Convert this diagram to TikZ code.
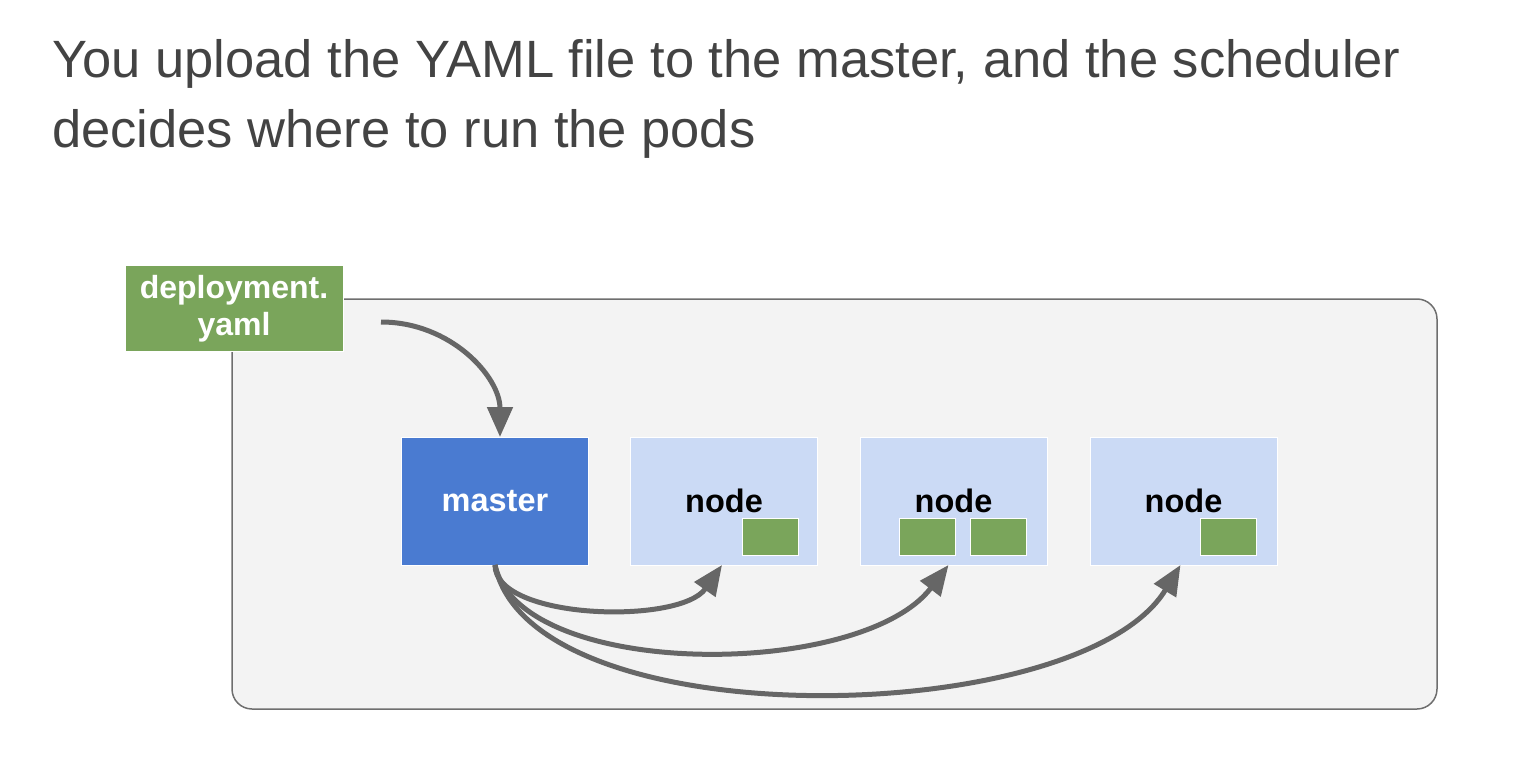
\documentclass[tikz,border=0pt]{standalone}
\usepackage{fontspec}
\setmainfont{Liberation Sans}
\usetikzlibrary{arrows.meta}

\definecolor{titlegray}{HTML}{434343}
\definecolor{yamlgreen}{HTML}{7AA55B}
\definecolor{masterblue}{HTML}{4A7BD1}
\definecolor{workerblue}{HTML}{CBDAF5}
\definecolor{clusterfill}{HTML}{F3F3F3}
\definecolor{clusterline}{HTML}{6E6E6E}
\definecolor{flowgray}{HTML}{666666}

\tikzset{
  box/.style={draw=white, line width=1pt, inner sep=0pt, outer sep=0pt,
    minimum width=187pt, minimum height=128pt,
    font=\fontsize{32.5}{37}\selectfont\bfseries},
  masterbox/.style={box, fill=masterblue, text=white},
  workerbox/.style={box, fill=workerblue, text=black},
  pod/.style={draw=white, line width=1pt, fill=yamlgreen, inner sep=0pt,
    minimum width=56pt, minimum height=37pt},
  flow/.style={draw=flowgray, line width=5pt,
    -{Triangle[length=30pt,width=25pt]}},
}

\begin{document}
\begin{tikzpicture}[x=1pt,y=1pt,yscale=-1,xscale=1]
  \useasboundingbox (0,0) rectangle (1516,778);

  % title
  \node[anchor=base west, inner sep=0pt, text=titlegray, font=\fontsize{52.5}{70}\selectfont]
    (title1) at (52,78) {You upload the YAML file to the master, and the scheduler};
  \node[anchor=base west, inner sep=0pt, text=titlegray, font=\fontsize{52.5}{70}\selectfont]
    (title2) at (52,148) {decides where to run the pods};

  % cluster
  \node[draw=clusterline, fill=clusterfill, line width=1.5pt, rounded corners=20pt,
    minimum width=1205pt, minimum height=410pt, inner sep=0pt] (cluster) at (834.5,504) {};

  % yaml file
  \node[draw=white, line width=1pt, fill=yamlgreen, text=white, align=center,
    minimum width=218pt, minimum height=85pt, inner sep=0pt,
    font=\fontsize{32}{37}\selectfont\bfseries] (yaml) at (234,308.5) {deployment.\\yaml};

  % master and nodes
  \node[masterbox] (master) at (495,501) {master};
  \node[workerbox] (node1) at (724,501) {node};
  \node[workerbox] (node2) at (953.5,501) {node};
  \node[workerbox] (node3) at (1183.5,501) {node};

  % pods
  \node[pod] (pod1) at (770,536.5) {};
  \node[pod] (pod2a) at (927,536.5) {};
  \node[pod] (pod2b) at (998.5,536.5) {};
  \node[pod] (pod3) at (1228,536.5) {};

  % upload
  \coordinate (src) at (381,322);
  \draw[flow] (src) .. controls +(70,0) and +(0,-60) .. ([xshift=5pt]master.north);

  % scheduling
  \draw[flow] (master.south) .. controls +(0,55) and +(-42,60) .. ([xshift=-2pt]node1.south);
  \draw[flow] (master.south) .. controls +(25,115) and +(-88,115) .. ([xshift=-5pt]node2.south);
  \draw[flow] (master.south) .. controls +(35,175) and +(-100,165) .. ([xshift=-3pt]node3.south);
\end{tikzpicture}
\end{document}
